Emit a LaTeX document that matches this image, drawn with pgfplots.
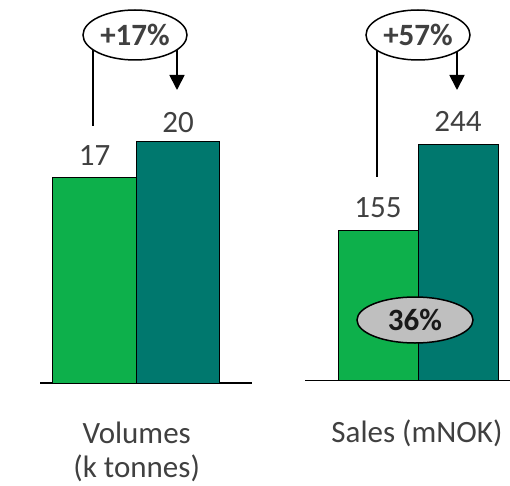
\documentclass[border=0pt]{standalone}
\usepackage{pgfplots}
\pgfplotsset{compat=1.18}
\usepackage{fontspec}
\setmainfont{Carlito}
\usetikzlibrary{arrows.meta,shapes.geometric}
\definecolor{lgreen}{HTML}{0DB04B}
\definecolor{teal2}{HTML}{00786E}
\definecolor{txt}{HTML}{404040}
\newcommand{\bigf}{\fontsize{31}{34}\selectfont}
\begin{document}
\begin{tikzpicture}[x=1pt,y=1pt]
\useasboundingbox (0,0) rectangle (510,485);
\pgfplotsset{
  mybars/.style={
    ybar, bar shift=0pt, anchor=south west,
    /pgf/number format/assume math mode=true,
    axis x line*=bottom, axis y line=none,
    xtick=\empty, ytick=\empty, ymin=0, clip=false,
    axis line style={line width=1.8pt},
    nodes near coords,
    every node near coord/.append style={font=\bigf, text=txt, anchor=base, inner sep=0pt},
    xlabel style={font=\bigf, text=txt, align=center, anchor=north, inner sep=0pt},
  },
  barA/.style={fill=lgreen, draw=black, line width=1pt, bar shift=0pt},
  barB/.style={fill=teal2, draw=black, line width=1pt, bar shift=0pt},
}
\begin{axis}[mybars, at={(40pt,102pt)}, x=83.5pt, y=12.06pt,
  xmin=-0.653, xmax=1.886, ymax=25, bar width=83.5pt,
  xlabel={Volumes\\(k tonnes)},
  xlabel style={at={(axis description cs:0.456,0)}, yshift=-39pt}]
\addplot[barA, every node near coord/.append style={yshift=12pt}] coordinates {(0,17)};
\addplot[barB, every node near coord/.append style={yshift=9pt}] coordinates {(1,20)};
\end{axis}
\begin{axis}[mybars, at={(305pt,104.5pt)}, x=80pt, y=0.968pt,
  xmin=-0.9125, xmax=1.65, ymax=300, bar width=80pt,
  xlabel={Sales (mNOK)},
  xlabel style={at={(axis description cs:0.546,0)}, yshift=-39.5pt}]
\addplot[barA, every node near coord/.append style={yshift=13pt}] coordinates {(0,155)};
\addplot[barB, every node near coord/.append style={yshift=13pt}] coordinates {(1,244)};
\end{axis}
% annotations
\draw[line width=1.8pt] (93,436) -- (93,359);
\draw[line width=1.8pt, -{Triangle[width=15pt,length=15pt]}] (177,436) -- (177,395);
\node[ellipse, draw, line width=1.5pt, fill=white, minimum width=104pt, minimum height=50pt, inner sep=0pt, font=\bfseries\bigf, text=txt] at (135,450) {+17\%};
\draw[line width=1.8pt] (377,436) -- (377,307.7);
\draw[line width=1.8pt, -{Triangle[width=15pt,length=15pt]}] (457,435) -- (457,395);
\node[ellipse, draw, line width=1.5pt, fill=white, minimum width=104pt, minimum height=50pt, inner sep=0pt, font=\bfseries\bigf, text=txt] at (418,450) {+57\%};
\node[ellipse, draw, line width=1.5pt, fill={rgb,255:red,191;green,191;blue,191}, minimum width=116pt, minimum height=46pt, inner sep=0pt, font=\bfseries\bigf, text=black!90] at (415,165) {36\%};
\end{tikzpicture}
\end{document}
